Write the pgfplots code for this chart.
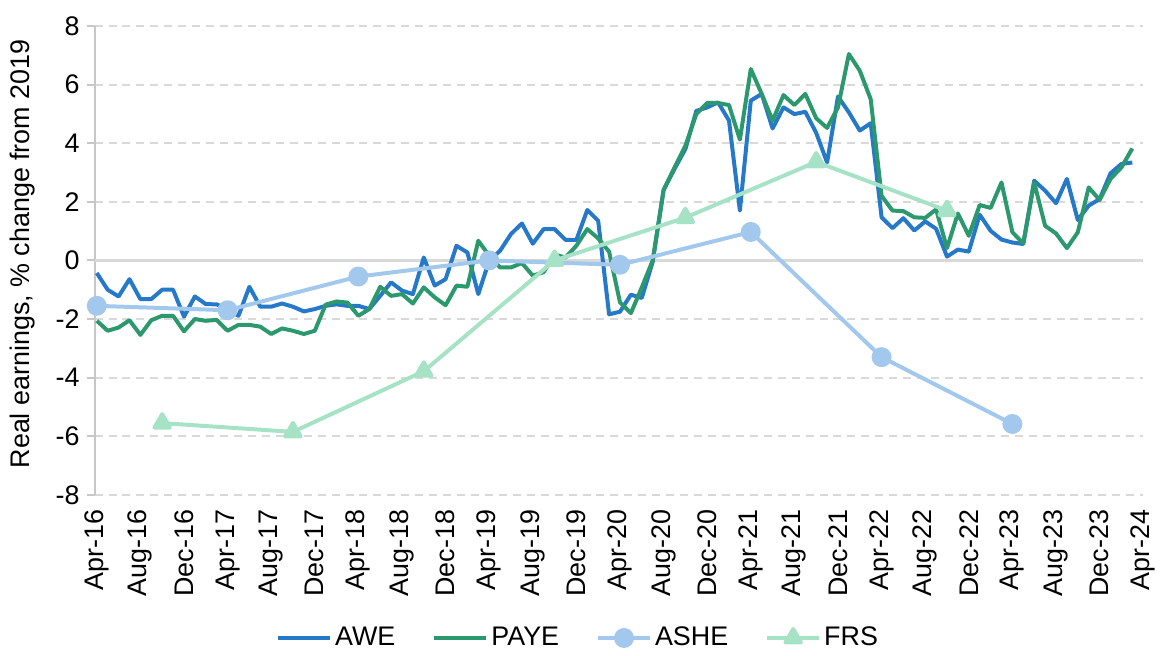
\documentclass[border=0pt]{standalone}
\usepackage{fontspec}
\setmainfont{Liberation Sans}
\usepackage{pgfplots}
\usepackage{pgfplotstable}
\pgfplotsset{compat=1.18}

\definecolor{awe}{RGB}{38,120,200}
\definecolor{paye}{RGB}{44,152,110}
\definecolor{ashe}{RGB}{162,200,238}
\definecolor{frs}{RGB}{166,226,198}
\definecolor{gridgray}{RGB}{217,217,217}

% month index (0 = Apr-16), AWE, PAYE
\pgfplotstableread{
m awe paye
0 -0.43 -2.06
1 -1.00 -2.40
2 -1.23 -2.29
3 -0.64 -2.04
4 -1.32 -2.54
5 -1.32 -2.04
6 -1.00 -1.89
7 -1.00 -1.89
8 -1.92 -2.42
9 -1.23 -2.00
10 -1.49 -2.06
11 -1.50 -2.03
12 -1.66 -2.40
13 -1.89 -2.20
14 -0.90 -2.20
15 -1.58 -2.26
16 -1.58 -2.51
17 -1.47 -2.32
18 -1.58 -2.40
19 -1.74 -2.51
20 -1.66 -2.40
21 -1.55 -1.51
22 -1.50 -1.40
23 -1.55 -1.44
24 -1.55 -1.89
25 -1.66 -1.66
26 -1.21 -0.90
27 -0.75 -1.21
28 -1.03 -1.15
29 -1.15 -1.47
30 0.10 -0.92
31 -0.86 -1.26
32 -0.64 -1.53
33 0.50 -0.86
34 0.27 -0.90
35 -1.15 0.67
36 -0.01 0.16
37 0.33 -0.24
38 0.90 -0.24
39 1.26 -0.09
40 0.57 -0.52
41 1.07 -0.40
42 1.07 0.20
43 0.70 0.10
44 0.70 0.50
45 1.72 1.07
46 1.35 0.75
47 -1.84 0.30
48 -1.75 -1.43
49 -1.17 -1.80
50 -1.28 -0.92
51 -0.05 0.00
52 2.40 2.40
53 3.12 3.17
54 3.80 3.91
55 5.10 4.99
56 5.22 5.37
57 5.39 5.37
58 4.77 5.30
59 1.70 4.12
60 5.45 6.53
61 5.68 5.68
62 4.50 4.77
63 5.22 5.64
64 4.99 5.30
65 5.07 5.68
66 4.35 4.85
67 3.34 4.52
68 5.59 5.22
69 5.05 7.04
70 4.43 6.47
71 4.68 5.50
72 1.47 2.20
73 1.10 1.70
74 1.44 1.68
75 1.02 1.47
76 1.33 1.45
77 1.08 1.74
78 0.13 0.42
79 0.37 1.60
80 0.30 0.84
81 1.56 1.89
82 1.01 1.79
83 0.71 2.66
84 0.61 0.96
85 0.56 0.58
86 2.72 2.66
87 2.38 1.18
88 1.95 0.92
89 2.78 0.42
90 1.38 0.96
91 1.87 2.49
92 2.09 2.06
93 2.97 2.78
94 3.29 3.17
95 3.34 3.82
}\monthly

\begin{document}
\begin{tikzpicture}[font=\fontsize{13.5}{16}\selectfont]
\begin{axis}[
    name=ax,
    scale only axis,
    width=526.5pt, height=235.5pt,
    xmin=-0.2, xmax=96,
    ymin=-8, ymax=8,
    ytick={-8,-6,...,8},
    xtick={0,4,...,96},
    xticklabels={Apr-16,Aug-16,Dec-16,Apr-17,Aug-17,Dec-17,Apr-18,Aug-18,Dec-18,
        Apr-19,Aug-19,Dec-19,Apr-20,Aug-20,Dec-20,Apr-21,Aug-21,Dec-21,
        Apr-22,Aug-22,Dec-22,Apr-23,Aug-23,Dec-23,Apr-24},
    xticklabel style={rotate=90, anchor=east},
    /pgf/number format/assume math mode=true,
    axis x line*=bottom,
    axis y line*=left,
    x axis line style={draw=none},
    y axis line style={draw=gridgray!80!gray, line width=1pt},
    xtick style={draw=none},
    ytick style={draw=gridgray!80!gray, line width=1pt},
    tick align=outside,
    major tick length=4pt,
    ymajorgrids,
    grid style={gridgray, line width=1pt, dash pattern=on 4pt off 3pt},
    extra y ticks={0},
    extra y tick labels={},
    extra y tick style={grid style={solid, gridgray, line width=1.2pt}, major tick length=0pt},
    ylabel={Real earnings, \% change from 2019},
    ylabel style={at={(axis description cs:-0.069,0.514)}, anchor=center},
    legend columns=4,
    legend style={at={(0.4615,-0.305)}, anchor=center, draw=none, fill=none,
        nodes={inner sep=1.5pt},
        /tikz/every even column/.append style={column sep=17pt}},
    legend image code/.code={\draw[mark repeat=2,mark phase=2]
        plot coordinates {(0cm,0cm) (0.46cm,0cm) (0.92cm,0cm)};},
    every axis plot/.append style={line width=2pt, line join=round},
]
\addplot[awe, no markers] table[x=m, y=awe] {\monthly};
\addlegendentry{AWE}
\addplot[paye, no markers] table[x=m, y=paye] {\monthly};
\addlegendentry{PAYE}
\addplot[ashe, mark=*, mark size=4pt, mark options={solid, fill=ashe, draw=ashe}]
    coordinates {(0,-1.55) (12,-1.70) (24,-0.55) (36,0.00) (48,-0.15) (60,0.97) (72,-3.30) (84,-5.58)};
\addlegendentry{ASHE}
\addplot[frs, mark=triangle*, mark size=4.5pt, mark options={solid, fill=frs, draw=frs}]
    coordinates {(6,-5.55) (18,-5.85) (30,-3.78) (42,0.00) (54,1.46) (66,3.36) (78,1.70)};
\addlegendentry{FRS}
\end{axis}
\path ([shift={(-47.5pt,-76.5pt)}]ax.south west) rectangle ([shift={(7pt,13pt)}]ax.north east);
\end{tikzpicture}
\end{document}
